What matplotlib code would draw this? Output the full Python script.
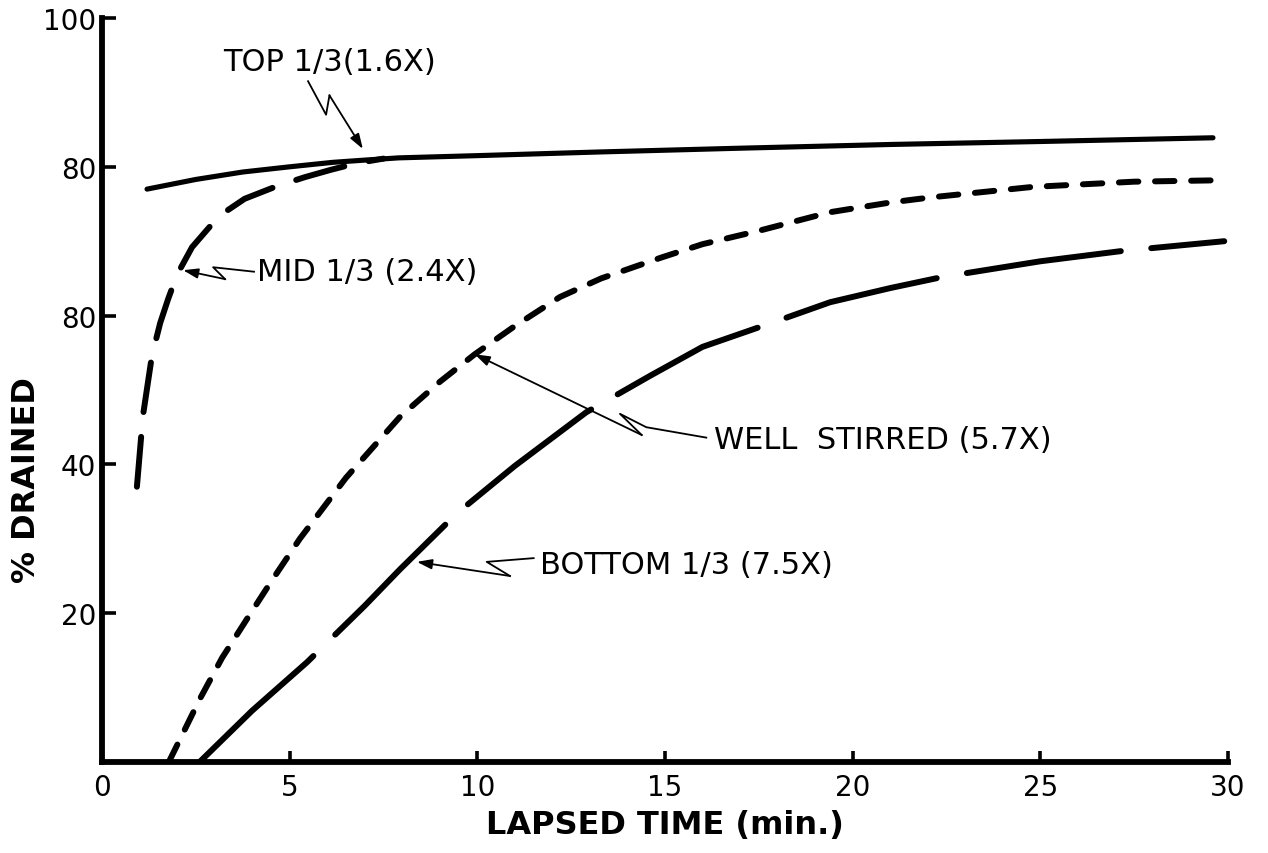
import matplotlib
matplotlib.use("Agg")
import matplotlib.pyplot as plt

plt.rcParams["font.family"] = ["DejaVu Sans"]
plt.rcParams["lines.scale_dashes"] = False

# ---- data -------------------------------------------------------------
top_x = [1.2, 2.5, 3.75, 5.0, 6.15, 7.0, 7.9, 10.0, 13.3, 17.0, 21.0, 25.0, 29.6]
top_y = [77.0, 78.3, 79.3, 80.0, 80.6, 80.9, 81.2, 81.5, 82.0, 82.5, 83.0, 83.4, 83.9]

mid_x = [0.93, 1.09, 1.33, 1.55, 1.76, 2.0, 2.4, 2.88, 3.3, 3.8, 4.66, 5.4, 6.1, 6.8, 7.5]
mid_y = [37.0, 46.5, 54.6, 59.0, 62.2, 65.5, 69.2, 72.0, 74.0, 75.7, 77.4, 78.6, 79.6, 80.5, 81.1]

well_x = [1.78, 2.2, 2.61, 3.2, 3.86, 4.5, 5.27, 6.5, 7.94, 9.0, 9.93, 11.0, 12.2,
          13.3, 14.9, 16.0, 17.5, 19.4, 21.0, 22.1, 24.8, 27.5, 29.9]
well_y = [0.0, 4.3, 8.5, 14.0, 19.2, 24.2, 30.0, 38.2, 46.4, 51.1, 54.8, 58.6, 62.5,
          65.0, 67.8, 69.6, 71.4, 73.9, 75.2, 75.9, 77.3, 78.0, 78.2]

bot_x = [2.6, 4.0, 5.46, 7.0, 7.94, 9.45, 11.0, 12.9, 14.6, 16.0, 18.0, 19.4, 21.0,
         22.4, 25.0, 27.2, 29.9]
bot_y = [0.0, 6.9, 13.4, 21.0, 25.9, 33.4, 39.8, 47.0, 51.9, 55.8, 59.3, 61.8, 63.7,
         65.2, 67.3, 68.7, 70.0]

x_ticks = [0, 5, 10, 15, 20, 25, 30]
x_tick_labels = ["0", "5", "10", "15", "20", "25", "30"]
y_ticks = [20, 40, 60, 80, 100]
y_tick_labels = ["20", "40", "80", "80", "100"]

# ---- figure -----------------------------------------------------------
fig = plt.figure(figsize=(12.68, 8.54), dpi=100)
ax = fig.add_axes([102 / 1268, 1 - 763 / 854, 1126 / 1268, 744 / 854])

LW = 4.3
ax.plot(top_x, top_y, color="black", lw=LW - 0.6, solid_capstyle="round")
ax.plot(mid_x, mid_y, color="black", lw=LW, dash_capstyle="round",
        dashes=(36, 18))
ax.plot(well_x, well_y, color="black", lw=LW, dash_capstyle="round",
        dashes=(14, 12))
ax.plot(bot_x, bot_y, color="black", lw=LW, dash_capstyle="round",
        dashes=(112, 22))

ax.set_xlim(0, 30)
ax.set_ylim(0, 100)

for side in ("top", "right"):
    ax.spines[side].set_visible(False)
for side in ("left", "bottom"):
    ax.spines[side].set_linewidth(4.2)
    ax.spines[side].set_capstyle("projecting")

ax.set_xticks(x_ticks)
ax.set_xticklabels(x_tick_labels)
ax.set_yticks(y_ticks)
ax.set_yticklabels(y_tick_labels)
ax.tick_params(axis="both", direction="in", width=2.6, labelsize=20, colors="black")
ax.tick_params(axis="y", length=10, pad=4)
ax.tick_params(axis="x", length=8, pad=8)

ax.set_xlabel("LAPSED TIME (min.)", fontsize=23, fontweight="bold", labelpad=6)
fig.text(27 / 1268, 1 - 480 / 854, "% DRAINED", rotation=90, fontsize=23,
         fontweight="bold", ha="center", va="center")

# ---- annotations ------------------------------------------------------
def callout(path, text, text_xy):
    xs = [p[0] for p in path]
    ys = [p[1] for p in path]
    ax.plot(xs[:-1], ys[:-1], color="black", lw=1.3)
    ax.annotate("", xy=path[-1], xytext=path[-2],
                arrowprops=dict(arrowstyle="-|>,head_length=0.9,head_width=0.3",
                                color="black", lw=1.3, shrinkA=0, shrinkB=0))
    ax.text(text_xy[0], text_xy[1], text, fontsize=22, ha="left", va="center")

callout([(5.49, 91.5), (5.97, 87.0), (6.06, 89.6), (6.95, 82.4)],
        "TOP 1/3(1.6X)", (3.22, 94.1))
callout([(4.05, 65.9), (2.96, 66.5), (3.28, 64.9), (2.16, 66.1)],
        "MID 1/3 (2.4X)", (4.13, 65.9))
callout([(16.1, 43.6), (14.5, 45.0), (13.8, 46.8), (14.38, 43.95), (9.93, 54.8)],
        "WELL  STIRRED (5.7X)", (16.3, 43.4))
callout([(11.5, 27.4), (10.25, 26.9), (10.87, 25.0), (8.39, 26.9)],
        "BOTTOM 1/3 (7.5X)", (11.66, 26.6))

fig.savefig("out.png", dpi=100, facecolor="white")
